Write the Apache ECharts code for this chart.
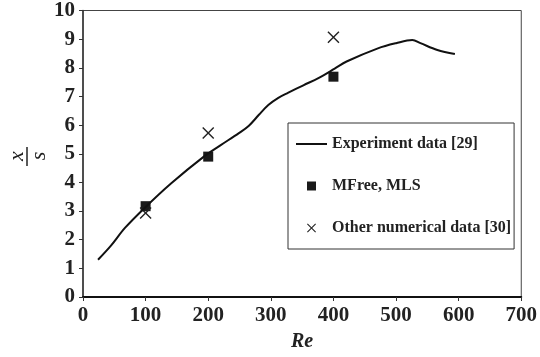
<!DOCTYPE html>
<html>
<head>
<meta charset="utf-8">
<script src="https://cdn.jsdelivr.net/npm/echarts@6/dist/echarts.min.js"></script>
<style>
  html, body { margin: 0; padding: 0; background: #fff; }
  #chart { width: 540px; height: 357px; }
</style>
</head>
<body>
<div id="chart"></div>
<script>
// 实验曲线 (Re, x/s)
var expRe = [24, 45, 67, 98, 141, 193, 220, 249, 265, 281, 296, 312, 328, 352, 376, 402, 421, 471, 500, 526, 539, 566, 594];
var expXs = [1.3, 1.8, 2.41, 3.1, 3.97, 4.9, 5.3, 5.72, 5.98, 6.36, 6.7, 6.95, 7.13, 7.39, 7.64, 7.97, 8.22, 8.68, 8.86, 8.97, 8.86, 8.62, 8.48];
// MFree, MLS
var mlsRe = [100, 200, 400];
var mlsXs = [3.17, 4.9, 7.69];
// 其他数值结果
var othRe = [100, 200, 400];
var othXs = [2.93, 5.72, 9.07];

var xTicks = [0, 700, 100];
var yTicks = [0, 10, 1];

function pairs(a, b) {
  var out = [];
  for (var i = 0; i < a.length; i++) out.push([a[i], b[i]]);
  return out;
}

var crossPath = 'path://M0,1L1,0L6,5L11,0L12,1L7,6L12,11L11,12L6,7L1,12L0,11L5,6Z';
var squarePath = 'path://M0,0L10,0L10,10L0,10Z';
var linePath = 'path://M0,0L31,0L31,2L0,2Z';
var serif = '"Liberation Serif", "Times New Roman", serif';

var chart = echarts.init(document.getElementById('chart'));
var option = {
  backgroundColor: '#fff',
  animation: false,
  grid: {
    left: 83, right: 15, top: 10, bottom: 57,
    show: true, borderColor: '#444', borderWidth: 1
  },
  legend: {
    orient: 'vertical',
    left: 288, top: 123,
    padding: [13, 3, 13, 8],
    itemGap: 26,
    itemWidth: 31, itemHeight: 9,
    symbolKeepAspect: true,
    borderColor: '#333', borderWidth: 1,
    backgroundColor: '#fff',
    textStyle: { fontFamily: serif, fontWeight: 'bold', fontSize: 16, color: '#222' },
    data: [
      { name: 'Experiment data [29]', icon: linePath },
      { name: 'MFree, MLS', icon: squarePath },
      { name: 'Other numerical data [30]', icon: crossPath }
    ]
  },
  xAxis: {
    type: 'value',
    min: xTicks[0], max: xTicks[1], interval: xTicks[2],
    name: 'Re', nameLocation: 'middle', nameGap: 35,
    nameTextStyle: { fontFamily: serif, fontStyle: 'italic', fontWeight: 'bold', fontSize: 20, color: '#222' },
    axisLine: { lineStyle: { color: '#111', width: 2 } },
    axisTick: { show: true, length: 4, lineStyle: { color: '#333' } },
    axisLabel: { fontFamily: serif, fontWeight: 'bold', fontSize: 21, color: '#222', margin: 8 },
    splitLine: { show: false }
  },
  yAxis: {
    type: 'value',
    min: yTicks[0], max: yTicks[1], interval: yTicks[2],
    axisLine: { show: true, lineStyle: { color: '#333', width: 1.5 } },
    axisTick: { show: true, length: 4, lineStyle: { color: '#333' } },
    axisLabel: { fontFamily: serif, fontWeight: 'bold', fontSize: 21, color: '#222', margin: 8 },
    splitLine: { show: false }
  },
  graphic: [
    { type: 'text', x: 17.5, y: 156, rotation: Math.PI / 2,
      style: { text: 'x', fontFamily: serif, fontStyle: 'italic', fontSize: 22, fill: '#222', align: 'center', verticalAlign: 'middle' } },
    { type: 'line', shape: { x1: 27, y1: 147, x2: 27, y2: 166 }, style: { stroke: '#222', lineWidth: 1.5 } },
    { type: 'text', x: 39, y: 156, rotation: Math.PI / 2,
      style: { text: 's', fontFamily: serif, fontStyle: 'italic', fontSize: 22, fill: '#222', align: 'center', verticalAlign: 'middle' } }
  ],
  series: [
    {
      name: 'Experiment data [29]',
      type: 'line',
      data: pairs(expRe, expXs),
      smooth: 0.35,
      symbol: 'none',
      lineStyle: { color: '#111', width: 2 },
      itemStyle: { color: '#111' }
    },
    {
      name: 'MFree, MLS',
      type: 'scatter',
      data: pairs(mlsRe, mlsXs),
      symbol: 'rect',
      symbolSize: 10,
      itemStyle: { color: '#1a1a1a', opacity: 1 }
    },
    {
      name: 'Other numerical data [30]',
      type: 'scatter',
      data: pairs(othRe, othXs),
      symbol: crossPath,
      symbolSize: 12,
      itemStyle: { color: '#222', opacity: 1 }
    }
  ]
};
chart.setOption(option);
</script>
</body>
</html>
